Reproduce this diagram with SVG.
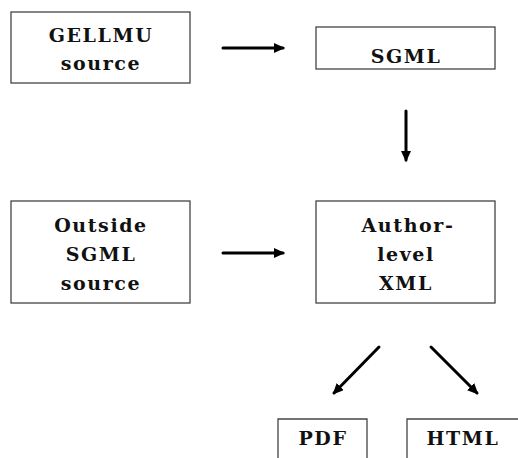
<svg xmlns="http://www.w3.org/2000/svg" width="518" height="458" viewBox="0 0 518 458">
<style>
.box{fill:#fff;stroke:#444;stroke-width:1.3}
.t{font-family:"DejaVu Serif","Liberation Serif",serif;font-weight:bold;font-size:19px;fill:#111;text-anchor:middle;letter-spacing:1.6px}
.c{stroke:#000;stroke-width:3;fill:none;stroke-linecap:round}
</style>
<defs>
<marker id="ah" viewBox="0 0 11 10" refX="9" refY="5" markerWidth="3.67" markerHeight="3.33" orient="auto" markerUnits="strokeWidth">
<path d="M0,0 L11,5 L0,10 Z" fill="#000"/>
</marker>
</defs>
<rect width="518" height="458" fill="#fff"/>
<g id="gellmu"><rect class="box" x="11" y="12" width="179" height="71"/><text class="t" x="101" y="42">GELLMU</text><text class="t" x="101" y="70">source</text></g>
<g id="sgml"><rect class="box" x="316" y="27" width="179" height="42"/><text class="t" x="406" y="63">SGML</text></g>
<g id="outside"><rect class="box" x="11" y="201" width="179" height="102"/><text class="t" x="101" y="232">Outside</text><text class="t" x="101" y="261">SGML</text><text class="t" x="101" y="290">source</text></g>
<g id="author"><rect class="box" x="316" y="201" width="179" height="102"/><text class="t" x="408" y="232">Author-</text><text class="t" x="406" y="261">level</text><text class="t" x="406" y="290">XML</text></g>
<g id="pdf"><path class="box" d="M278,460 V419 H367 V460"/><text class="t" x="323" y="445">PDF</text></g>
<g id="html"><path class="box" d="M407,460 V419 H520"/><text class="t" x="463" y="445">HTML</text></g>
<g id="connectors">
<line class="c" x1="223" y1="48" x2="283" y2="48" marker-end="url(#ah)"/>
<line class="c" x1="406" y1="111" x2="406" y2="160" marker-end="url(#ah)"/>
<line class="c" x1="223" y1="253" x2="283" y2="253" marker-end="url(#ah)"/>
<line class="c" x1="379" y1="347" x2="334" y2="393" marker-end="url(#ah)"/>
<line class="c" x1="431" y1="347" x2="477" y2="393" marker-end="url(#ah)"/>
</g>
</svg>
